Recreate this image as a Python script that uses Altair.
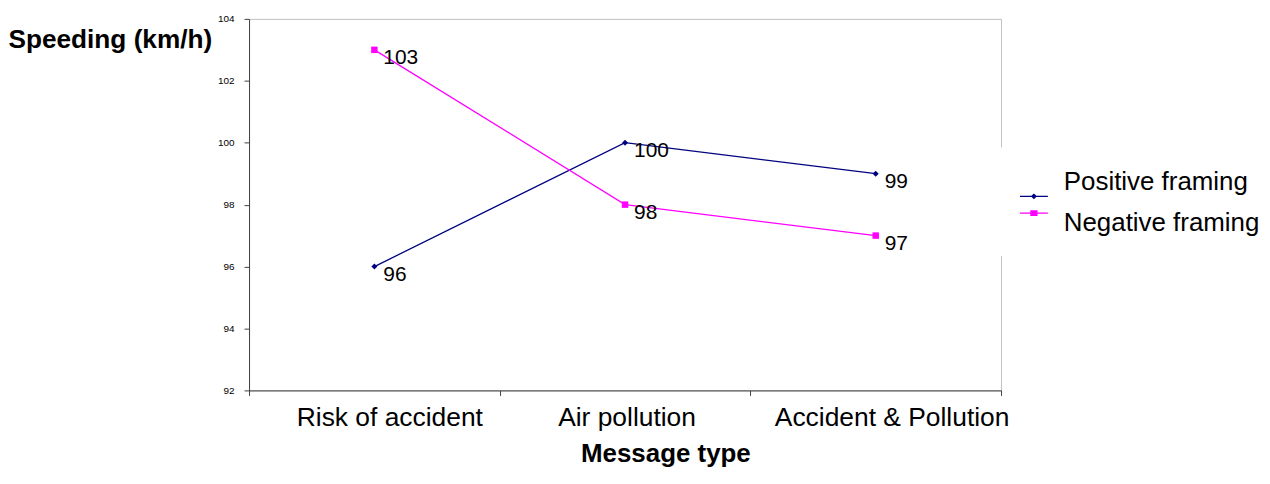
import altair as alt
import pandas as pd

# ---- data ----
categories = ["Risk of accident", "Air pollution", "Accident & Pollution"]
series = ["Positive framing", "Negative framing"]
positive = [96, 100, 99]
negative = [103, 98, 97]
colors = ["#000080", "#FF00FF"]
markers = ["diamond", "square"]
marker_sizes = [36, 42]
y_ticks = [92, 94, 96, 98, 100, 102, 104]

# styling: horizontal nudge of each category label (px), as in the original
label_nudge = {"Risk of accident": 15, "Air pollution": 1.5, "Accident & Pollution": 16}

# legend symbols: short line (thin filled bar) with a marker (unit = sqrt(size)/2 px)
legend_paths = [
    "M-1,0.964H1V1.056H-1Z M0,0.80L0.22,1.01L0,1.22L-0.22,1.01Z",
    "M-1,-0.756H1V-0.664H-1Z M-0.26,-0.92H0.26V-0.50H-0.26Z",
]

rows = []
for s, vals, m, ms in zip(series, [positive, negative], markers, marker_sizes):
    for c, v in zip(categories, vals):
        rows.append({"message": c, "series": s, "speed": v, "marker": m, "msize": ms})
df = pd.DataFrame(rows)

FONT = "Liberation Sans"
AXIS_C = "#404040"

nudge_expr = " : ".join(
    [f"datum.value === '{k}' ? {v}" for k, v in label_nudge.items()] + ["0"]
)

x = alt.X(
    "message:N",
    sort=categories,
    scale=alt.Scale(paddingInner=0, paddingOuter=0),
    axis=alt.Axis(
        title="Message type",
        tickBand="extent",
        labelAngle=0,
        labelFont=FONT,
        labelFontSize=26.5,
        labelColor="black",
        labelBaseline="alphabetic",
        labelPadding=30,
        labelLimit=0,
        labelOffset={"expr": nudge_expr},
        tickSize=5,
        tickColor=AXIS_C,
        domainColor=AXIS_C,
        grid=False,
        titleFont=FONT,
        titleFontSize=26,
        titleFontWeight="bold",
        titleColor="black",
        titleAlign="center",
        titleBaseline="alphabetic",
        titleAnchor="start",
        titleX=418,
        titleY=71,
    ),
)
y = alt.Y(
    "speed:Q",
    scale=alt.Scale(domain=[92, 104], nice=False, zero=False),
    axis=alt.Axis(
        title="Speeding (km/h)",
        values=y_ticks,
        labelFont=FONT,
        labelFontSize=10,
        labelColor="black",
        labelPadding=10,
        tickSize=5,
        tickColor=AXIS_C,
        domainColor=AXIS_C,
        grid=False,
        titleFont=FONT,
        titleFontSize=26.3,
        titleFontWeight="bold",
        titleColor="black",
        titleAngle=0,
        titleAlign="left",
        titleBaseline="alphabetic",
        titleAnchor="start",
        titleX=-242,
        titleY=29,
    ),
)
color_scale = alt.Scale(domain=series, range=colors)

leg = alt.Legend(
    title=None,
    orient="none",
    legendX=753,
    legendY=129,
    padding=20,
    fillColor="white",
    labelFont=FONT,
    labelFontSize=26,
    labelColor="black",
    labelLimit=0,
    labelOffset=15,
    symbolSize=784,
    symbolStrokeWidth=1.3,
    rowPadding=8,
)

base = alt.Chart(df)

lines = base.mark_line(strokeWidth=1.3).encode(
    x=x, y=y, color=alt.Color("series:N", scale=color_scale, legend=None), detail="series:N"
)

points = base.mark_point(filled=True, opacity=1).encode(
    x=x,
    y=y,
    color=alt.Color("series:N", scale=color_scale, legend=None),
    shape=alt.Shape("marker:N", scale=None),
    size=alt.Size("msize:Q", scale=None),
)

labels = base.mark_text(
    align="left", baseline="alphabetic", dx=9, dy=14, fontSize=21, font=FONT, color="black"
).encode(x=x, y=y, text=alt.Text("speed:Q", format="d"))

legend_layer = (
    base.transform_filter("false")
    .mark_point(filled=True, opacity=1)
    .encode(
        x=x,
        y=y,
        color=alt.Color("series:N", scale=alt.Scale(domain=series, range=colors), legend=leg),
        shape=alt.Shape("series:N", scale=alt.Scale(domain=series, range=legend_paths), legend=leg),
    )
)

chart = (
    alt.layer(lines, points, labels, legend_layer)
    .resolve_scale(shape="independent", color="independent")
    .properties(
        width=755,
        height=373,
        autosize=alt.AutoSizeParams(type="none"),
        padding={"left": 242, "top": 10, "right": 262, "bottom": 80},
        background="white",
    )
    .configure_view(stroke="#c0c0c0", strokeWidth=1)
)

chart.save("out.html", embed_options={"renderer": "svg", "actions": False})
